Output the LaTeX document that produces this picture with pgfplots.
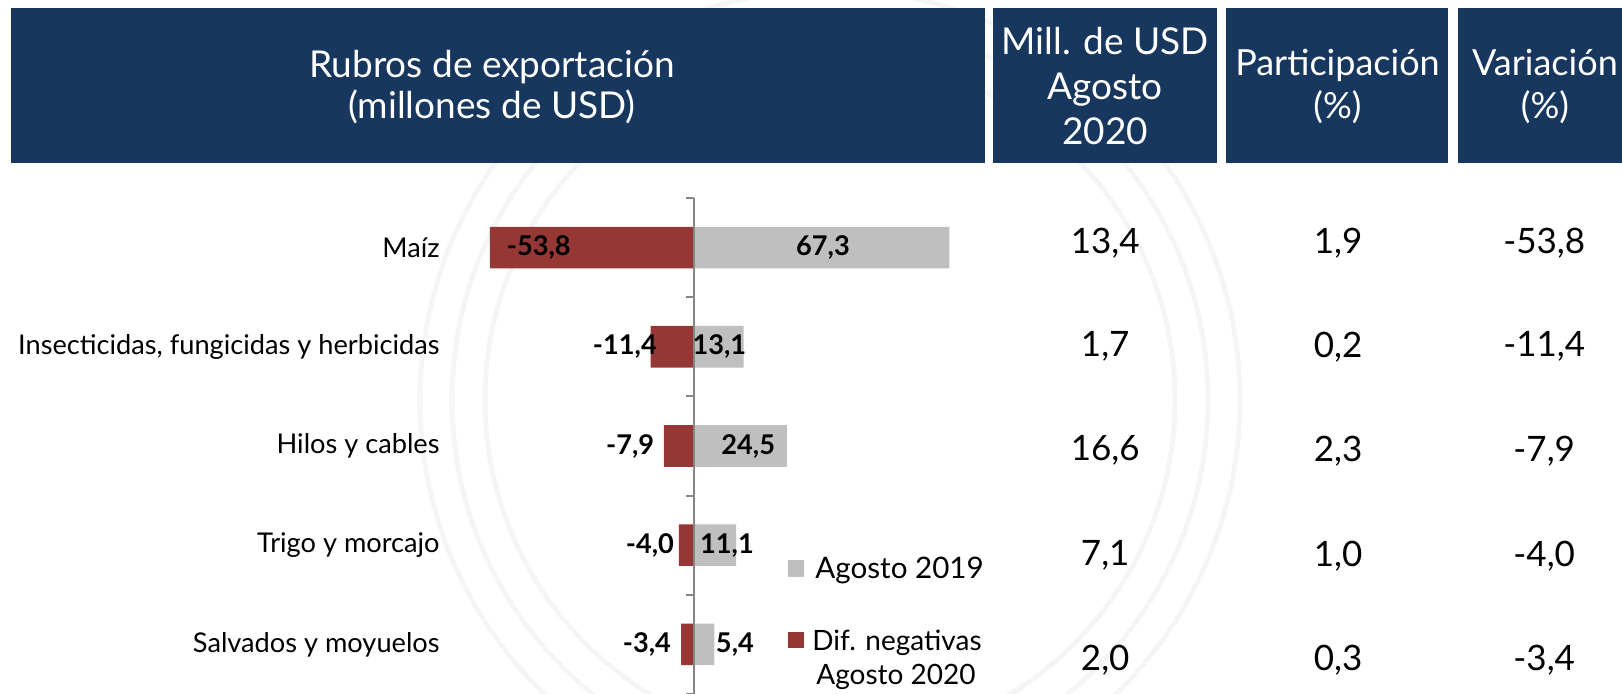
\documentclass[border=0pt]{standalone}
\usepackage{fontspec}
\setmainfont{Lato}
\usepackage{pgfplots}
\pgfplotsset{compat=1.18}
\definecolor{hdr}{HTML}{17375E}
\definecolor{rojo}{HTML}{953735}
\definecolor{gris}{HTML}{BFBFBF}
\definecolor{axgray}{HTML}{868686}
\newcommand{\px}[2]{({#1*0.5pt},{(694-#2)*0.5pt})}
\begin{document}
\begin{tikzpicture}
\useasboundingbox (0,0) rectangle (811pt,347pt);
% faint watermark
\begin{scope}
\clip (0,0) rectangle (811pt,347pt);
\foreach \r in {410,378,345} \draw[black!4, line width=2.5pt] \px{830}{400} circle ({\r*0.5pt});
\end{scope}
% header
\fill[hdr] \px{11.4}{8.3} rectangle \px{984.7}{163.5};
\fill[hdr] \px{993}{8.3} rectangle \px{1216.5}{163.5};
\fill[hdr] \px{1225.8}{8.3} rectangle \px{1448}{163.5};
\fill[hdr] \px{1457.5}{8.3} rectangle \px{1622}{163.5};
\node[white, font=\fontsize{18.5}{20.5}\selectfont, align=center] at \px{492}{87} {Rubros de exportación\\(millones de USD)};
\node[white, font=\fontsize{18.5}{22.5}\selectfont, align=center] at \px{1105}{86.5} {Mill. de USD\\Agosto\\2020};
\node[white, font=\fontsize{18}{21.3}\selectfont, align=center] at \px{1337.5}{86.5} {Participación\\(\%)};
\node[white, font=\fontsize{18}{21.3}\selectfont, align=center] at \px{1545}{86.5} {Variación\\(\%)};
% legend
\fill[gris] \px{788}{560} rectangle \px{804}{577};
\node[anchor=west, inner sep=0pt, font=\fontsize{14.8}{17}\selectfont] at \px{815}{570} {Agosto 2019};
\fill[rojo] \px{788}{632} rectangle \px{804}{648};
\node[anchor=west, inner sep=0pt, align=left, font=\fontsize{14}{17.25}\selectfont] at \px{812}{660} {Dif. negativas\\\hspace*{2pt}Agosto 2020};
\begin{axis}[at={(0,0)}, anchor=south west, scale only axis,
  width=811pt, height=248pt,
  xmin=-182.9, xmax=244.6, ymin=-0.5, ymax=4.5, clip=false,
  axis line style={draw=none}, xtick=\empty,
  ytick={0,1,2,3,4},
  yticklabels={Salvados y moyuelos, Trigo y morcajo, Hilos y cables, {Insecticidas, fungicidas y herbicidas}, Maíz},
  major tick length=0pt,
  yticklabel style={anchor=east, inner xsep=0pt, xshift=220pt, font=\fontsize{13.6}{16}\selectfont},
]
\addplot[xbar, bar shift=0pt, bar width=20.8pt, fill=rojo, draw=none] coordinates {(-53.8,4) (-11.4,3) (-7.9,2) (-4.0,1) (-3.4,0)};
\addplot[xbar, bar shift=0pt, bar width=20.8pt, fill=gris, draw=none] coordinates {(67.3,4) (13.1,3) (24.5,2) (11.1,1) (5.4,0)};
\addplot[axgray, line width=1pt, mark=none] coordinates {(0,-0.5) (0,4.5)};
\addplot[axgray, line width=1pt, mark=none] coordinates {(-2,4.5) (0,4.5)};
\addplot[axgray, line width=1pt, mark=none] coordinates {(-2,3.5) (0,3.5)};
\addplot[axgray, line width=1pt, mark=none] coordinates {(-2,2.5) (0,2.5)};
\addplot[axgray, line width=1pt, mark=none] coordinates {(-2,1.5) (0,1.5)};
\addplot[axgray, line width=1pt, mark=none] coordinates {(-2,0.5) (0,0.5)};
\addplot[axgray, line width=1pt, mark=none] coordinates {(-2,-0.5) (0,-0.5)};
% bar labels
\addplot[only marks, mark=none, point meta=explicit symbolic, nodes near coords,
  nodes near coords style={anchor=center, inner sep=0pt, font=\bfseries\fontsize{13.6}{15}\selectfont}]
  coordinates {(-40.9,4) [-53,8] (34.0,4) [67,3] (-18.2,3) [-11,4] (6.7,3) [13,1]
  (-16.8,2) [-7,9] (14.3,2) [24,5] (-11.6,1) [-4,0] (8.7,1) [11,1] (-12.4,0) [-3,4] (10.8,0) [5,4]};
% table values
\addplot[only marks, mark=none, point meta=explicit symbolic, nodes near coords,
  nodes near coords style={anchor=center, inner sep=0pt, font=\fontsize{17.5}{20}\selectfont}]
  coordinates {(108.4,4.047) [13,4] (108.4,3.0) [1,7] (108.4,1.952) [16,6] (108.4,0.894) [7,1] (108.4,-0.155) [2,0]
  (169.8,4.047) [1,9] (169.8,3.0) [0,2] (169.8,1.952) [2,3] (169.8,0.894) [1,0] (169.8,-0.155) [0,3]
  (224.1,4.047) [-53,8] (224.1,3.0) [-11,4] (224.1,1.952) [-7,9] (224.1,0.894) [-4,0] (224.1,-0.155) [-3,4]};
\end{axis}
\end{tikzpicture}
\end{document}
